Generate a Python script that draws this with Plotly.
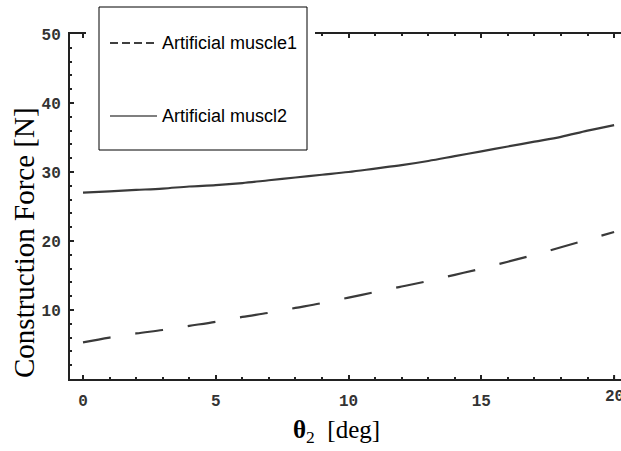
import plotly.graph_objects as go

# Data
theta_deg = [0, 1, 2, 3, 4, 5, 6, 7, 8, 9, 10, 11, 12, 13, 14, 15, 16, 17, 18, 19, 20]
muscle1 = [5.3, 6.0, 6.6, 7.1, 7.7, 8.3, 9.0, 9.6, 10.3, 11.0, 11.8, 12.6, 13.4, 14.2, 15.1, 16.0, 17.0, 18.0, 19.1, 20.2, 21.3]
muscle2 = [27.0, 27.2, 27.4, 27.6, 27.9, 28.1, 28.4, 28.8, 29.2, 29.6, 30.0, 30.5, 31.0, 31.6, 32.3, 33.0, 33.7, 34.4, 35.1, 36.0, 36.8]
legend_names = ["Artificial muscle1", "Artificial muscl2"]
x_ticks = [0, 5, 10, 15, 20]
y_ticks = [10, 20, 30, 40, 50]

LINE = "#3a3a3a"
W, H = 621, 451
L, R, T, B = 70, 0, 34, 72
pw, ph = W - L - R, H - T - B
XR = [-0.49, 20.26]


def px(x):
    return (x - L) / pw


def py(y):
    return (H - B - y) / ph


fig = go.Figure()
fig.add_trace(go.Scatter(x=theta_deg, y=muscle1, mode="lines", name=legend_names[0],
                         line=dict(color=LINE, width=2.2, dash="28px,25px", shape="spline", smoothing=1.0),
                         showlegend=False))
fig.add_trace(go.Scatter(x=theta_deg, y=muscle2, mode="lines", name=legend_names[1],
                         line=dict(color=LINE, width=2.2, shape="spline", smoothing=1.0),
                         showlegend=False))
# transparent copy on the top axis so that its tick marks are drawn
fig.add_trace(go.Scatter(x=theta_deg, y=muscle2, mode="lines", xaxis="x2",
                         line=dict(color="rgba(0,0,0,0)", width=0.1), showlegend=False, hoverinfo="skip"))

tickfont = dict(family="Liberation Mono, Courier New, monospace", size=16, color="#333333", weight="bold")
TC = "#222"

fig.update_layout(
    width=W, height=H,
    margin=dict(l=L, r=R, t=T, b=B, pad=0),
    paper_bgcolor="white", plot_bgcolor="white",
    xaxis=dict(range=XR, tickvals=x_ticks[:-1],
               ticktext=[str(v) for v in x_ticks[:-1]],
               ticks="inside", ticklen=4, tickwidth=2, tickcolor=TC,
               minor=dict(dtick=1, ticks="inside", ticklen=2, tickwidth=2, tickcolor=TC),
               showline=True, linecolor=TC, linewidth=2, mirror=True,
               showgrid=False, zeroline=False, tickfont=tickfont, ticklabelstandoff=6),
    xaxis2=dict(range=XR, overlaying="x", side="top", tickvals=x_ticks, showticklabels=False,
                ticks="inside", ticklen=4, tickwidth=2, tickcolor=TC,
                minor=dict(dtick=1, ticks="inside", ticklen=2, tickwidth=2, tickcolor=TC),
                showline=False, showgrid=False, zeroline=False),
    yaxis=dict(range=[0, 50], tickvals=y_ticks, ticktext=[str(v) for v in y_ticks],
               ticks="inside", ticklen=4, tickwidth=2, tickcolor=TC,
               minor=dict(dtick=2, ticks="inside", ticklen=2, tickwidth=2, tickcolor=TC),
               showline=True, linecolor=TC, linewidth=2, mirror=False,
               showgrid=False, zeroline=False, tickfont=tickfont, ticklabelstandoff=4),
    font=dict(family="Liberation Sans, Arial, sans-serif", color="black"),
)

# Major tick at 20 (label drawn separately; it is cut by the right edge as in the reference)
fig.add_shape(type="line", xref="x", yref="paper", x0=x_ticks[-1], x1=x_ticks[-1], y0=0, y1=4 / ph,
              line=dict(color=TC, width=2))
fig.add_annotation(text=str(x_ticks[-1]), xref="x", yref="paper", x=x_ticks[-1], y=py(397),
                   showarrow=False, xanchor="center", yanchor="middle", font=tickfont)

# Axis titles
fig.add_annotation(text="Construction Force [N]", xref="paper", yref="paper",
                   x=px(24), y=py(243), textangle=-90, showarrow=False,
                   xanchor="center", yanchor="middle",
                   font=dict(family="Liberation Serif, Times New Roman, serif", size=29, color="black"))
fig.add_annotation(text="<b>θ</b><sub>2</sub>  [deg]", xref="paper", yref="paper",
                   x=px(336), y=py(431), showarrow=False, xanchor="center", yanchor="middle",
                   font=dict(family="Liberation Serif, Times New Roman, serif", size=25, color="black"))

# Legend box (manual)
fig.add_shape(type="rect", xref="paper", yref="paper", x0=px(86), x1=px(315), y0=py(0), y1=py(152),
              fillcolor="white", line=dict(width=0), layer="above")
fig.add_shape(type="rect", xref="paper", yref="paper", x0=px(99), x1=px(307), y0=py(7), y1=py(150),
              fillcolor="white", line=dict(color="black", width=1), layer="above")
fig.add_shape(type="line", xref="paper", yref="paper", x0=px(110), x1=px(157), y0=py(43), y1=py(43),
              line=dict(color="black", width=1.6, dash="8px,4px"), layer="above")
fig.add_shape(type="line", xref="paper", yref="paper", x0=px(110), x1=px(157), y0=py(116), y1=py(116),
              line=dict(color="black", width=1.2), layer="above")
for name, yy in zip(legend_names, [43, 116]):
    fig.add_annotation(text=name, xref="paper", yref="paper", x=px(160), y=py(yy),
                       showarrow=False, xanchor="left", yanchor="middle",
                       font=dict(family="Liberation Sans, Arial, sans-serif", size=18, color="black"))

fig.write_html("out.html")
